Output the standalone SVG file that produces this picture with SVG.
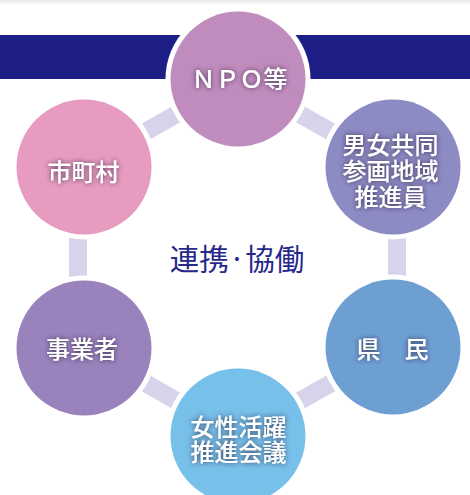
<svg xmlns="http://www.w3.org/2000/svg" width="470" height="495" viewBox="0 0 470 495">
<defs>
<linearGradient id="topShade" x1="0" y1="0" x2="0" y2="1">
<stop offset="0" stop-color="#e6e6e6"/>
<stop offset="1" stop-color="#ffffff"/>
</linearGradient>
<filter id="glow" x="-20%" y="-40%" width="140%" height="180%">
<feGaussianBlur in="SourceAlpha" stdDeviation="2.4" result="b"/>
<feFlood flood-color="#2a1f3a" flood-opacity="0.8"/>
<feComposite in2="b" operator="in" result="s"/>
<feMerge><feMergeNode in="s"/><feMergeNode in="SourceGraphic"/></feMerge>
</filter>
</defs>
<style>
.ring{fill:#ffffff}
.lbl{font-family:"Noto Sans CJK JP","Noto Sans",sans-serif;font-size:24px;font-weight:500;fill:#ffffff;text-anchor:middle;filter:url(#glow)}
.bar{stroke:#d6d3ea;stroke-width:18;fill:none}
.center{font-family:"Noto Sans CJK JP","Noto Sans",sans-serif;font-size:29.5px;fill:#26288c;text-anchor:middle}
</style>
<rect x="0" y="0" width="470" height="495" fill="#ffffff"/>
<rect x="0" y="0" width="470" height="5" fill="url(#topShade)"/>
<rect x="0" y="35" width="470" height="44" fill="#1d1f87"/>
<g id="connectors">
<line class="bar" x1="238" y1="79" x2="84" y2="167"/>
<line class="bar" x1="238" y1="79" x2="393" y2="167"/>
<line class="bar" x1="78" y1="167" x2="78" y2="348"/>
<line class="bar" x1="397" y1="167" x2="397" y2="348"/>
<line class="bar" x1="84" y1="348" x2="238" y2="436"/>
<line class="bar" x1="393" y1="348" x2="238" y2="436"/>
</g>
<text class="center" x="237" y="270">連携·協働</text>
<g id="npo">
<circle class="ring" cx="238" cy="79" r="72.5"/>
<circle cx="238" cy="79" r="67.5" fill="#c08cbd"/>
<text class="lbl" x="239.5" y="88">ＮＰＯ等</text>
</g>
<g id="danjo">
<circle class="ring" cx="393" cy="167" r="72.5"/>
<circle cx="393" cy="167" r="67.5" fill="#8d8bc3"/>
<text class="lbl"><tspan x="390.5" y="154">男女共同</tspan><tspan x="390.5" y="180">参画地域</tspan><tspan x="390.5" y="206">推進員</tspan></text>
</g>
<g id="kenmin">
<circle class="ring" cx="393" cy="347" r="72.5"/>
<circle cx="393" cy="347" r="67.5" fill="#6e9fd3"/>
<text class="lbl" x="392.5" y="358">県　民</text>
</g>
<g id="josei">
<circle class="ring" cx="238" cy="436" r="72.5"/>
<circle cx="238" cy="436" r="67.5" fill="#77c0ea"/>
<text class="lbl"><tspan x="238.5" y="436">女性活躍</tspan><tspan x="238.5" y="461">推進会議</tspan></text>
</g>
<g id="jigyousha">
<circle class="ring" cx="84" cy="348" r="72.5"/>
<circle cx="84" cy="348" r="67.5" fill="#9a83bd"/>
<text class="lbl" x="82" y="358">事業者</text>
</g>
<g id="shichouson">
<circle class="ring" cx="84" cy="167" r="72.5"/>
<circle cx="84" cy="167" r="67.5" fill="#e79bc1"/>
<text class="lbl" x="83.5" y="181">市町村</text>
</g>
</svg>
